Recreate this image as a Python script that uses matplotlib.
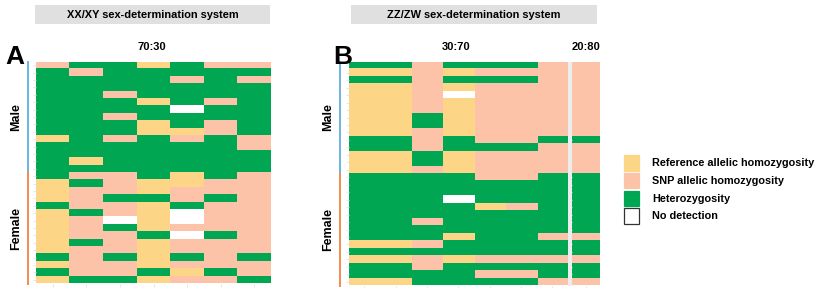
import matplotlib
matplotlib.use("Agg")
import matplotlib.pyplot as plt
from matplotlib.colors import ListedColormap
from matplotlib.patches import Rectangle
from matplotlib.lines import Line2D
import numpy as np

plt.rcParams['font.family'] = ['Liberation Sans', 'DejaVu Sans']

# ---------------- data ----------------
categories = ["Reference allelic homozygosity", "SNP allelic homozygosity",
              "Heterozygosity", "No detection"]
code_index = {"R": 0, "S": 1, "G": 2, "W": 3}
cat_colors = ["#FDD587", "#FDC3A9", "#00A651", "#FFFFFF"]

panel_titles = ["XX/XY sex-determination system", "ZZ/ZW sex-determination system"]
sex_groups = ["Male", "Female"]
group_sizes = [15, 15]
group_colors = ["#6CB4E4", "#F58A50"]

ratio_a = ["70:30"]
ratio_b = ["30:70", "20:80"]

# Panel A: 30 individuals x 7 loci (R=reference, S=SNP, G=heterozygous, W=no detection)
panel_a_rows = [
    "SGGRGSS", "GSGGGGG", "GGGGSGS", "GGGGGGG", "GGSGGGG",
    "GGGRGSG", "GGGGWGG", "GGSGGGG", "GGGRGSG", "GGGRRSG",
    "RGSGSGS", "GGGGGGS", "GGGGGGG", "GRGGGGG", "GGGGGGG",
    "GSSGRGS", "RGSRRSS", "RSSRSSS", "RSGGSGS", "GSSRGSS",
    "RGSRWSS", "RSWRWSS", "RSGRSSS", "RSSGWGS", "RGSRSSS",
    "RSSRSSS", "GSGRGSG", "RSSRSSS", "GSSGRGS", "RGGRSSG",
]

# Panel B: 30 individuals x 7 loci (30:70 group) + 1 locus (20:80 group)
panel_b_rows = [
    "GGSGGGS", "RRSRSSS", "GGSGGGS", "RRSRSSS", "RRSWSSS",
    "RRSRSSS", "RRSRSSS", "RRGRSSS", "RRGRSSS", "RRSRSSS",
    "GGSGSSG", "GGSGGGS", "RRGRSSS", "RRGRSSS", "RRSRSSS",
    "GGGGSSG", "GGGGGGG", "GGGGGGG", "GGGWGGG", "GGGGRSG",
    "GGGGGGG", "GGSGGGG", "GGGGGGG", "GGGRGGS", "RRSGGGG",
    "GGGGGGG", "RRSRSSS", "GGSGGGG", "GGGGSSG", "RRGGGGS",
]
panel_b_extra = "SSSSSSSSSSGSSSSGGGGGGGGSGGSGGS"

# --------------- figure ---------------
W, H = 816, 288
fig = plt.figure(figsize=(W / 100, H / 100), dpi=100)
cmap = ListedColormap(cat_colors)


def ax_px(x0, y0, x1, y1):
    return fig.add_axes([x0 / W, 1 - y1 / H, (x1 - x0) / W, (y1 - y0) / H])


def draw_heat(ax, rows):
    mat = np.array([[code_index[c] for c in r] for r in rows])
    ax.imshow(mat, cmap=cmap, vmin=-0.5, vmax=3.5, aspect='auto',
              interpolation='nearest')
    ax.set_yticks(range(mat.shape[0]))
    ax.set_xticks(range(mat.shape[1]))
    ax.tick_params(length=2, width=0.6, color='#E2E2E2',
                   labelleft=False, labelbottom=False)
    for s in ax.spines.values():
        s.set_visible(False)


def ftext(x, y, s, **kw):
    fig.text(x / W, 1 - y / H, s, **kw)


# panel A heatmap
axA = ax_px(36, 61.5, 271, 283.5)
draw_heat(axA, panel_a_rows)

# panel B heatmaps
axB1 = ax_px(348.5, 61.5, 568, 285.5)
draw_heat(axB1, panel_b_rows)
axB2 = ax_px(572, 61.5, 600, 285.5)
draw_heat(axB2, [c for c in panel_b_extra])
fig.add_artist(Rectangle((568 / W, 1 - 285.5 / H), 4 / W, 224 / H,
                         transform=fig.transFigure, color='#EDEDED', lw=0))

# title boxes
for (x0, x1), title in zip([(35, 270), (351, 597)], panel_titles):
    fig.add_artist(Rectangle((x0 / W, 1 - 24 / H), (x1 - x0) / W, 19 / H,
                             transform=fig.transFigure, color='#E0E0E0', lw=0))
    ftext((x0 + x1) / 2, 14.5, title, ha='center', va='center',
          fontsize=7.9, fontweight='bold')

# panel letters
ftext(14.5, 57, "A", ha='center', va='center', fontsize=19, fontweight='bold')
ftext(343, 57, "B", ha='center', va='center', fontsize=19, fontweight='bold')

# ratio labels
ftext(152, 47.5, ratio_a[0], ha='center', va='center', fontsize=8,
      fontweight='bold')
ftext(456, 47.5, ratio_b[0], ha='center', va='center', fontsize=8,
      fontweight='bold')
ftext(585.5, 47.5, ratio_b[1], ha='center', va='center', fontsize=8,
      fontweight='bold')

# sex group bars and labels
for xl, (top, bot) in [(28, (61.5, 283.5)), (340, (61.5, 285.5))]:
    n = sum(group_sizes)
    rh = (bot - top) / n
    start = top
    for g, size, col in zip(sex_groups, group_sizes, group_colors):
        end = start + size * rh
        fig.add_artist(Line2D([xl / W, xl / W], [1 - start / H, 1 - end / H],
                              color=col, lw=1.4, transform=fig.transFigure))
        ftext(xl - 12, (start + end) / 2, g, ha='center', va='center',
              rotation=90, fontsize=9, fontweight='bold')
        start = end

# legend
for i, (lab, col) in enumerate(zip(categories, cat_colors)):
    y0 = 155 + i * 17.8
    fig.add_artist(Rectangle((624 / W, 1 - (y0 + 15.5) / H), 15 / W, 15.5 / H,
                             transform=fig.transFigure, facecolor=col,
                             edgecolor='#333333' if col == '#FFFFFF' else col,
                             lw=0.9))
    ftext(652.5, y0 + 8, lab, ha='left', va='center', fontsize=7.8,
          fontweight='bold')

fig.savefig("out.png", dpi=100)
